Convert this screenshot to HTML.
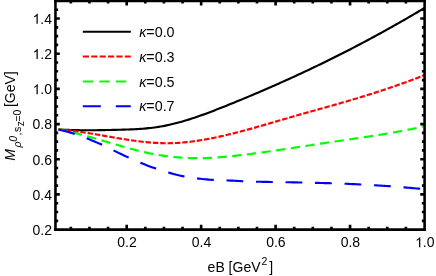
<!DOCTYPE html>
<html><head><meta charset="utf-8"><style>
html,body{margin:0;padding:0;background:#fff;}
body{width:436px;height:276px;overflow:hidden;}
svg{will-change:transform;position:absolute;left:0;top:0;display:block;font-family:"Liberation Sans",sans-serif;}
</style></head><body>
<svg width="436" height="276" viewBox="0 0 436 276">
<clipPath id="c"><rect x="55.45" y="0.9" width="369.15000000000003" height="228.65"/></clipPath>
<g clip-path="url(#c)" fill="none" stroke-width="2.15">
<path d="M58.5,129.50 L60.5,129.61 L62.5,129.70 L64.5,129.79 L66.5,129.87 L68.5,129.94 L70.5,130.00 L72.5,130.06 L74.5,130.11 L76.5,130.15 L78.5,130.18 L80.5,130.21 L82.5,130.23 L84.5,130.24 L86.5,130.25 L88.5,130.25 L90.5,130.25 L92.5,130.24 L94.5,130.23 L96.5,130.21 L98.5,130.18 L100.5,130.16 L102.5,130.13 L104.5,130.09 L106.5,130.05 L108.5,130.01 L110.5,129.97 L112.5,129.92 L114.5,129.88 L116.5,129.82 L118.5,129.77 L120.5,129.72 L122.5,129.66 L124.5,129.60 L126.5,129.54 L128.5,129.47 L130.5,129.40 L132.5,129.31 L134.5,129.22 L136.5,129.11 L138.5,129.00 L140.5,128.87 L142.5,128.72 L144.5,128.56 L146.5,128.39 L148.5,128.19 L150.5,127.98 L152.5,127.74 L154.5,127.48 L156.5,127.20 L158.5,126.89 L160.5,126.56 L162.5,126.20 L164.5,125.82 L166.5,125.41 L168.5,124.98 L170.5,124.53 L172.5,124.06 L174.5,123.57 L176.5,123.06 L178.5,122.53 L180.5,121.98 L182.5,121.41 L184.5,120.82 L186.5,120.22 L188.5,119.60 L190.5,118.97 L192.5,118.32 L194.5,117.66 L196.5,116.98 L198.5,116.29 L200.5,115.59 L202.5,114.87 L204.5,114.15 L206.5,113.41 L208.5,112.67 L210.5,111.92 L212.5,111.16 L214.5,110.39 L216.5,109.61 L218.5,108.83 L220.5,108.04 L222.5,107.25 L224.5,106.45 L226.5,105.65 L228.5,104.84 L230.5,104.04 L232.5,103.23 L234.5,102.41 L236.5,101.60 L238.5,100.78 L240.5,99.95 L242.5,99.13 L244.5,98.30 L246.5,97.46 L248.5,96.63 L250.5,95.79 L252.5,94.94 L254.5,94.10 L256.5,93.25 L258.5,92.40 L260.5,91.54 L262.5,90.68 L264.5,89.82 L266.5,88.95 L268.5,88.08 L270.5,87.20 L272.5,86.33 L274.5,85.45 L276.5,84.56 L278.5,83.67 L280.5,82.78 L282.5,81.89 L284.5,80.99 L286.5,80.09 L288.5,79.18 L290.5,78.27 L292.5,77.36 L294.5,76.44 L296.5,75.52 L298.5,74.59 L300.5,73.67 L302.5,72.73 L304.5,71.80 L306.5,70.86 L308.5,69.91 L310.5,68.97 L312.5,68.01 L314.5,67.06 L316.5,66.10 L318.5,65.14 L320.5,64.17 L322.5,63.20 L324.5,62.22 L326.5,61.24 L328.5,60.26 L330.5,59.27 L332.5,58.28 L334.5,57.29 L336.5,56.29 L338.5,55.28 L340.5,54.27 L342.5,53.26 L344.5,52.25 L346.5,51.23 L348.5,50.20 L350.5,49.17 L352.5,48.14 L354.5,47.10 L356.5,46.06 L358.5,45.01 L360.5,43.96 L362.5,42.91 L364.5,41.85 L366.5,40.79 L368.5,39.72 L370.5,38.65 L372.5,37.57 L374.5,36.49 L376.5,35.40 L378.5,34.31 L380.5,33.22 L382.5,32.12 L384.5,31.02 L386.5,29.91 L388.5,28.79 L390.5,27.68 L392.5,26.55 L394.5,25.43 L396.5,24.30 L398.5,23.16 L400.5,22.02 L402.5,20.87 L404.5,19.72 L406.5,18.57 L408.5,17.41 L410.5,16.24 L412.5,15.08 L414.5,13.90 L416.5,12.72 L418.5,11.54 L420.5,10.35 L422.5,9.16 L424.5,7.96 L424.6,7.90" stroke="#000"/>
<path d="M58.5,129.50 L60.5,129.64 L62.5,129.80 L64.5,129.98 L66.5,130.17 L68.5,130.38 L70.5,130.60 L72.5,130.84 L74.5,131.09 L76.5,131.35 L78.5,131.62 L80.5,131.90 L82.5,132.20 L84.5,132.50 L86.5,132.81 L88.5,133.12 L90.5,133.45 L92.5,133.78 L94.5,134.11 L96.5,134.45 L98.5,134.80 L100.5,135.14 L102.5,135.49 L104.5,135.84 L106.5,136.19 L108.5,136.54 L110.5,136.89 L112.5,137.24 L114.5,137.58 L116.5,137.93 L118.5,138.26 L120.5,138.60 L122.5,138.93 L124.5,139.25 L126.5,139.56 L128.5,139.87 L130.5,140.17 L132.5,140.46 L134.5,140.74 L136.5,141.00 L138.5,141.26 L140.5,141.51 L142.5,141.74 L144.5,141.95 L146.5,142.16 L148.5,142.35 L150.5,142.52 L152.5,142.67 L154.5,142.81 L156.5,142.93 L158.5,143.03 L160.5,143.11 L162.5,143.16 L164.5,143.20 L166.5,143.22 L168.5,143.21 L170.5,143.18 L172.5,143.12 L174.5,143.05 L176.5,142.95 L178.5,142.83 L180.5,142.69 L182.5,142.53 L184.5,142.35 L186.5,142.15 L188.5,141.94 L190.5,141.70 L192.5,141.45 L194.5,141.18 L196.5,140.90 L198.5,140.60 L200.5,140.28 L202.5,139.95 L204.5,139.61 L206.5,139.25 L208.5,138.88 L210.5,138.50 L212.5,138.10 L214.5,137.70 L216.5,137.28 L218.5,136.85 L220.5,136.41 L222.5,135.96 L224.5,135.51 L226.5,135.04 L228.5,134.56 L230.5,134.08 L232.5,133.59 L234.5,133.09 L236.5,132.58 L238.5,132.06 L240.5,131.54 L242.5,131.01 L244.5,130.48 L246.5,129.94 L248.5,129.39 L250.5,128.84 L252.5,128.28 L254.5,127.72 L256.5,127.16 L258.5,126.59 L260.5,126.02 L262.5,125.45 L264.5,124.87 L266.5,124.29 L268.5,123.71 L270.5,123.13 L272.5,122.54 L274.5,121.96 L276.5,121.37 L278.5,120.78 L280.5,120.20 L282.5,119.61 L284.5,119.02 L286.5,118.44 L288.5,117.86 L290.5,117.27 L292.5,116.69 L294.5,116.12 L296.5,115.54 L298.5,114.97 L300.5,114.40 L302.5,113.84 L304.5,113.27 L306.5,112.71 L308.5,112.15 L310.5,111.59 L312.5,111.03 L314.5,110.47 L316.5,109.92 L318.5,109.36 L320.5,108.80 L322.5,108.24 L324.5,107.69 L326.5,107.13 L328.5,106.56 L330.5,106.00 L332.5,105.44 L334.5,104.87 L336.5,104.30 L338.5,103.73 L340.5,103.15 L342.5,102.57 L344.5,101.99 L346.5,101.41 L348.5,100.83 L350.5,100.24 L352.5,99.64 L354.5,99.05 L356.5,98.45 L358.5,97.84 L360.5,97.24 L362.5,96.63 L364.5,96.01 L366.5,95.39 L368.5,94.77 L370.5,94.14 L372.5,93.51 L374.5,92.87 L376.5,92.23 L378.5,91.58 L380.5,90.93 L382.5,90.27 L384.5,89.61 L386.5,88.94 L388.5,88.27 L390.5,87.59 L392.5,86.90 L394.5,86.21 L396.5,85.51 L398.5,84.81 L400.5,84.10 L402.5,83.38 L404.5,82.66 L406.5,81.93 L408.5,81.19 L410.5,80.45 L412.5,79.70 L414.5,78.94 L416.5,78.18 L418.5,77.40 L420.5,76.62 L422.5,75.83 L424.5,75.04 L424.6,75.00" stroke="#f00" stroke-dasharray="5.47 1.865"/>
<path d="M58.5,129.50 L60.5,129.87 L62.5,130.26 L64.5,130.66 L66.5,131.09 L68.5,131.53 L70.5,131.98 L72.5,132.45 L74.5,132.93 L76.5,133.42 L78.5,133.93 L80.5,134.44 L82.5,134.97 L84.5,135.51 L86.5,136.05 L88.5,136.60 L90.5,137.16 L92.5,137.73 L94.5,138.30 L96.5,138.88 L98.5,139.46 L100.5,140.04 L102.5,140.63 L104.5,141.22 L106.5,141.80 L108.5,142.39 L110.5,142.98 L112.5,143.57 L114.5,144.15 L116.5,144.74 L118.5,145.31 L120.5,145.89 L122.5,146.46 L124.5,147.02 L126.5,147.58 L128.5,148.13 L130.5,148.67 L132.5,149.20 L134.5,149.72 L136.5,150.23 L138.5,150.73 L140.5,151.21 L142.5,151.69 L144.5,152.15 L146.5,152.60 L148.5,153.03 L150.5,153.44 L152.5,153.84 L154.5,154.22 L156.5,154.58 L158.5,154.93 L160.5,155.26 L162.5,155.57 L164.5,155.86 L166.5,156.14 L168.5,156.40 L170.5,156.64 L172.5,156.87 L174.5,157.07 L176.5,157.26 L178.5,157.43 L180.5,157.59 L182.5,157.72 L184.5,157.84 L186.5,157.94 L188.5,158.03 L190.5,158.09 L192.5,158.14 L194.5,158.17 L196.5,158.18 L198.5,158.17 L200.5,158.15 L202.5,158.12 L204.5,158.06 L206.5,158.00 L208.5,157.91 L210.5,157.82 L212.5,157.71 L214.5,157.59 L216.5,157.46 L218.5,157.32 L220.5,157.16 L222.5,157.00 L224.5,156.82 L226.5,156.64 L228.5,156.45 L230.5,156.25 L232.5,156.05 L234.5,155.83 L236.5,155.62 L238.5,155.39 L240.5,155.16 L242.5,154.93 L244.5,154.69 L246.5,154.45 L248.5,154.20 L250.5,153.95 L252.5,153.69 L254.5,153.43 L256.5,153.17 L258.5,152.91 L260.5,152.64 L262.5,152.36 L264.5,152.09 L266.5,151.81 L268.5,151.53 L270.5,151.24 L272.5,150.95 L274.5,150.66 L276.5,150.37 L278.5,150.08 L280.5,149.78 L282.5,149.48 L284.5,149.18 L286.5,148.88 L288.5,148.58 L290.5,148.28 L292.5,147.97 L294.5,147.67 L296.5,147.36 L298.5,147.06 L300.5,146.75 L302.5,146.44 L304.5,146.13 L306.5,145.83 L308.5,145.52 L310.5,145.21 L312.5,144.90 L314.5,144.60 L316.5,144.29 L318.5,143.99 L320.5,143.68 L322.5,143.38 L324.5,143.08 L326.5,142.78 L328.5,142.48 L330.5,142.19 L332.5,141.89 L334.5,141.59 L336.5,141.30 L338.5,141.01 L340.5,140.71 L342.5,140.42 L344.5,140.13 L346.5,139.84 L348.5,139.54 L350.5,139.25 L352.5,138.95 L354.5,138.66 L356.5,138.36 L358.5,138.06 L360.5,137.76 L362.5,137.46 L364.5,137.16 L366.5,136.86 L368.5,136.55 L370.5,136.24 L372.5,135.93 L374.5,135.61 L376.5,135.30 L378.5,134.98 L380.5,134.65 L382.5,134.33 L384.5,133.99 L386.5,133.66 L388.5,133.32 L390.5,132.98 L392.5,132.63 L394.5,132.28 L396.5,131.92 L398.5,131.56 L400.5,131.19 L402.5,130.82 L404.5,130.44 L406.5,130.06 L408.5,129.67 L410.5,129.28 L412.5,128.87 L414.5,128.47 L416.5,128.05 L418.5,127.63 L420.5,127.20 L422.5,126.77 L424.5,126.32 L424.6,126.30" stroke="#0f0" stroke-dasharray="9.25 5.52"/>
<path d="M58.5,129.50 L60.5,129.96 L62.5,130.45 L64.5,130.96 L66.5,131.49 L68.5,132.05 L70.5,132.62 L72.5,133.22 L74.5,133.85 L76.5,134.49 L78.5,135.17 L80.5,135.88 L82.5,136.62 L84.5,137.39 L86.5,138.18 L88.5,138.99 L90.5,139.81 L92.5,140.66 L94.5,141.51 L96.5,142.37 L98.5,143.24 L100.5,144.11 L102.5,145.00 L104.5,145.92 L106.5,146.87 L108.5,147.85 L110.5,148.84 L112.5,149.84 L114.5,150.84 L116.5,151.84 L118.5,152.84 L120.5,153.82 L122.5,154.78 L124.5,155.72 L126.5,156.62 L128.5,157.52 L130.5,158.41 L132.5,159.29 L134.5,160.16 L136.5,161.03 L138.5,161.89 L140.5,162.73 L142.5,163.55 L144.5,164.36 L146.5,165.15 L148.5,165.92 L150.5,166.67 L152.5,167.40 L154.5,168.10 L156.5,168.79 L158.5,169.46 L160.5,170.11 L162.5,170.74 L164.5,171.36 L166.5,171.95 L168.5,172.53 L170.5,173.10 L172.5,173.67 L174.5,174.22 L176.5,174.76 L178.5,175.26 L180.5,175.73 L182.5,176.16 L184.5,176.55 L186.5,176.91 L188.5,177.24 L190.5,177.55 L192.5,177.84 L194.5,178.11 L196.5,178.35 L198.5,178.58 L200.5,178.80 L202.5,179.02 L204.5,179.22 L206.5,179.40 L208.5,179.57 L210.5,179.72 L212.5,179.85 L214.5,179.95 L216.5,180.04 L218.5,180.12 L220.5,180.18 L222.5,180.25 L224.5,180.32 L226.5,180.40 L228.5,180.49 L230.5,180.59 L232.5,180.69 L234.5,180.80 L236.5,180.91 L238.5,181.01 L240.5,181.11 L242.5,181.20 L244.5,181.29 L246.5,181.37 L248.5,181.45 L250.5,181.53 L252.5,181.60 L254.5,181.66 L256.5,181.71 L258.5,181.76 L260.5,181.80 L262.5,181.84 L264.5,181.88 L266.5,181.91 L268.5,181.94 L270.5,181.97 L272.5,182.00 L274.5,182.03 L276.5,182.06 L278.5,182.09 L280.5,182.12 L282.5,182.16 L284.5,182.19 L286.5,182.23 L288.5,182.26 L290.5,182.30 L292.5,182.34 L294.5,182.38 L296.5,182.41 L298.5,182.45 L300.5,182.49 L302.5,182.53 L304.5,182.57 L306.5,182.62 L308.5,182.66 L310.5,182.70 L312.5,182.75 L314.5,182.80 L316.5,182.85 L318.5,182.90 L320.5,182.95 L322.5,183.00 L324.5,183.06 L326.5,183.12 L328.5,183.18 L330.5,183.24 L332.5,183.30 L334.5,183.36 L336.5,183.43 L338.5,183.50 L340.5,183.57 L342.5,183.64 L344.5,183.72 L346.5,183.80 L348.5,183.88 L350.5,183.97 L352.5,184.06 L354.5,184.16 L356.5,184.26 L358.5,184.36 L360.5,184.46 L362.5,184.57 L364.5,184.68 L366.5,184.79 L368.5,184.90 L370.5,185.02 L372.5,185.13 L374.5,185.25 L376.5,185.37 L378.5,185.49 L380.5,185.61 L382.5,185.74 L384.5,185.88 L386.5,186.01 L388.5,186.15 L390.5,186.29 L392.5,186.44 L394.5,186.59 L396.5,186.75 L398.5,186.91 L400.5,187.07 L402.5,187.23 L404.5,187.40 L406.5,187.57 L408.5,187.74 L410.5,187.92 L412.5,188.10 L414.5,188.27 L416.5,188.45 L418.5,188.64 L420.5,188.82 L422.5,189.00 L424.5,189.19 L424.6,189.20" stroke="#00f" stroke-dasharray="16.77 12.75"/>
</g>
<path d="M70.86,229.55v-2.7M70.86,0.9v2.7M89.47,229.55v-2.7M89.47,0.9v2.7M108.09,229.55v-2.7M108.09,0.9v2.7M126.70,229.55v-4.7M126.70,0.9v4.7M145.31,229.55v-2.7M145.31,0.9v2.7M163.93,229.55v-2.7M163.93,0.9v2.7M182.54,229.55v-2.7M182.54,0.9v2.7M201.15,229.55v-4.7M201.15,0.9v4.7M219.76,229.55v-2.7M219.76,0.9v2.7M238.38,229.55v-2.7M238.38,0.9v2.7M256.99,229.55v-2.7M256.99,0.9v2.7M275.60,229.55v-4.7M275.60,0.9v4.7M294.21,229.55v-2.7M294.21,0.9v2.7M312.83,229.55v-2.7M312.83,0.9v2.7M331.44,229.55v-2.7M331.44,0.9v2.7M350.05,229.55v-4.7M350.05,0.9v4.7M368.66,229.55v-2.7M368.66,0.9v2.7M387.28,229.55v-2.7M387.28,0.9v2.7M405.89,229.55v-2.7M405.89,0.9v2.7M55.45,220.81h2.7M424.6,220.81h-2.7M55.45,212.01h2.7M424.6,212.01h-2.7M55.45,203.21h2.7M424.6,203.21h-2.7M55.45,194.42h4.35M424.6,194.42h-4.35M55.45,185.62h2.7M424.6,185.62h-2.7M55.45,176.83h2.7M424.6,176.83h-2.7M55.45,168.03h2.7M424.6,168.03h-2.7M55.45,159.24h4.35M424.6,159.24h-4.35M55.45,150.44h2.7M424.6,150.44h-2.7M55.45,141.65h2.7M424.6,141.65h-2.7M55.45,132.85h2.7M424.6,132.85h-2.7M55.45,124.06h4.35M424.6,124.06h-4.35M55.45,115.26h2.7M424.6,115.26h-2.7M55.45,106.47h2.7M424.6,106.47h-2.7M55.45,97.67h2.7M424.6,97.67h-2.7M55.45,88.88h4.35M424.6,88.88h-4.35M55.45,80.08h2.7M424.6,80.08h-2.7M55.45,71.29h2.7M424.6,71.29h-2.7M55.45,62.49h2.7M424.6,62.49h-2.7M55.45,53.70h4.35M424.6,53.70h-4.35M55.45,44.90h2.7M424.6,44.90h-2.7M55.45,36.11h2.7M424.6,36.11h-2.7M55.45,27.31h2.7M424.6,27.31h-2.7M55.45,18.52h4.35M424.6,18.52h-4.35M55.45,9.72h2.7M424.6,9.72h-2.7" stroke="#000" stroke-width="2.65" fill="none"/>
<path d="M55.45,-0.4999999999999999V230.95000000000002M424.6,-0.4999999999999999V230.95000000000002" stroke="#000" stroke-width="2.6" fill="none"/>
<path d="M54.150000000000006,0.9H425.90000000000003M54.150000000000006,229.55H425.90000000000003" stroke="#000" stroke-width="2.8" fill="none"/>
<g font-size="14" fill="#000">
<text x="52.0" y="234.9" text-anchor="end">0.2</text>
<text x="52.0" y="199.7" text-anchor="end">0.4</text>
<text x="52.0" y="164.5" text-anchor="end">0.6</text>
<text x="52.0" y="129.4" text-anchor="end">0.8</text>
<text x="52.0" y="94.2" text-anchor="end">.0</text>
<path transform="translate(32.54,94.18) scale(0.006836,-0.006836)" d="M763 0H583V1147Q518 1085 412.5 1023T223 930V1104Q373 1174.5 485 1275T644 1466H763Z" fill="#000"/>
<text x="52.0" y="59.0" text-anchor="end">.2</text>
<path transform="translate(32.54,59.00) scale(0.006836,-0.006836)" d="M763 0H583V1147Q518 1085 412.5 1023T223 930V1104Q373 1174.5 485 1275T644 1466H763Z" fill="#000"/>
<text x="52.0" y="23.8" text-anchor="end">.4</text>
<path transform="translate(32.54,23.82) scale(0.006836,-0.006836)" d="M763 0H583V1147Q518 1085 412.5 1023T223 930V1104Q373 1174.5 485 1275T644 1466H763Z" fill="#000"/>
<text x="127.0" y="247.2" text-anchor="middle">0.2</text>
<text x="201.5" y="247.2" text-anchor="middle">0.4</text>
<text x="275.9" y="247.2" text-anchor="middle">0.6</text>
<text x="350.4" y="247.2" text-anchor="middle">0.8</text>
<path transform="translate(415.07,247.20) scale(0.006836,-0.006836)" d="M763 0H583V1147Q518 1085 412.5 1023T223 930V1104Q373 1174.5 485 1275T644 1466H763Z" fill="#000"/>
<text x="422.85" y="247.2">.0</text>
</g>
<text x="207.6" y="272" font-size="14">eB [GeV</text><text x="261.4" y="265.4" font-size="10.5">2</text><text x="269.3" y="272" font-size="14">]</text>
<g transform="translate(14.6,160.8) rotate(-90)" font-size="14" fill="#000">
<text x="0" y="0" font-style="italic">M</text>
<text x="13.4" y="6.5" font-size="10.5" font-style="italic">ρ</text>
<text x="19.1" y="2.6" font-size="10.5" font-style="italic">0</text>
<text x="25.3" y="6.5" font-size="10.5">,</text>
<text x="28.9" y="6.5" font-size="10.5">s</text>
<text x="34.5" y="9.0" font-size="10.5">z</text>
<text x="39.3" y="7.5" font-size="10.5">=</text>
<text x="45.4" y="6.5" font-size="10.5">0</text>
<text x="53.7" y="0">[GeV]</text>
</g>
<path d="M82.8,31.8H130.8" stroke="#000" stroke-width="2" fill="none"/>
<text x="139.2" y="36.6" font-size="14.3"><tspan font-style="italic">κ</tspan>=0.0</text>
<path d="M82.8,56.5H130.8" stroke="#f00" stroke-width="2" fill="none" stroke-dasharray="6.2 2.2"/>
<text x="139.2" y="61.7" font-size="14.3"><tspan font-style="italic">κ</tspan>=0.3</text>
<path d="M82.8,81.4H130.8" stroke="#0f0" stroke-width="2" fill="none" stroke-dasharray="10.3 6.3"/>
<text x="139.2" y="86.6" font-size="14.3"><tspan font-style="italic">κ</tspan>=0.5</text>
<path d="M82.8,106.2H130.8" stroke="#00f" stroke-width="2" fill="none" stroke-dasharray="18 15"/>
<text x="139.2" y="111.4" font-size="14.3"><tspan font-style="italic">κ</tspan>=0.7</text>
</svg></body></html>
